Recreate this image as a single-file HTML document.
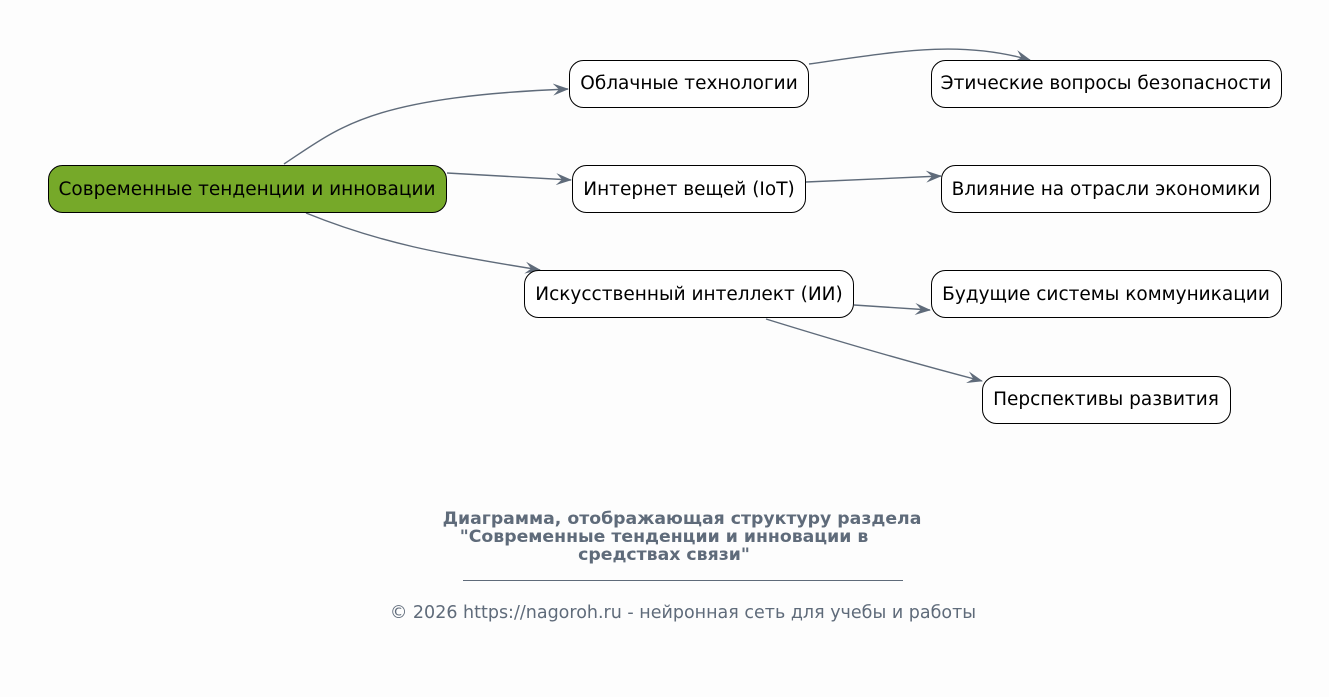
<!DOCTYPE html>
<html><head><meta charset="utf-8"><style>
html,body{margin:0;padding:0;background:#fdfdfd;}
svg{display:block;}
text{font-family:"DejaVu Sans","Liberation Sans","Noto Sans CJK SC",sans-serif;}
</style></head><body>
<svg width="1329" height="697" viewBox="0 0 1329 697" xmlns="http://www.w3.org/2000/svg">
<defs>
<marker id="a" viewBox="0 0 16 12" refX="15" refY="6" markerWidth="16" markerHeight="12" markerUnits="userSpaceOnUse" orient="auto">
<path d="M0,0 L16,6 L0,12 L6,6 z" fill="#5f6b7a"/>
</marker>
</defs>
<rect width="1329" height="697" fill="#fdfdfd"/>
<g fill="none" stroke="#5f6b7a" stroke-width="1.4" marker-end="url(#a)">
<path d="M284,164 C340,127 370,97 568,89"/>
<path d="M447,173 L571,180"/>
<path d="M306,213 C380,243 440,254 540,270"/>
<path d="M809,64 C900,51 960,40 1030,60"/>
<path d="M806,182 L941,176"/>
<path d="M854,305 L930,310"/>
<path d="M766,319 C850,345 920,365 982,381"/>
</g>
<g stroke="#000" stroke-width="1">
<rect x="48.5" y="165.5" width="398" height="47" rx="14" fill="#76a929"/>
<rect x="569.5" y="60.5" width="239" height="47" rx="14" fill="#fff"/>
<rect x="572.5" y="165.5" width="233" height="47" rx="14" fill="#fff"/>
<rect x="524.5" y="270.5" width="329" height="47" rx="14" fill="#fff"/>
<rect x="931.5" y="60.5" width="350" height="47" rx="14" fill="#fff"/>
<rect x="941.5" y="165.5" width="329" height="47" rx="14" fill="#fff"/>
<rect x="931.5" y="270.5" width="350" height="47" rx="14" fill="#fff"/>
<rect x="982.5" y="376.5" width="248" height="47" rx="14" fill="#fff"/>
</g>
<g font-size="18.5" fill="#000" text-anchor="middle">
<text x="247" y="195">Современные тенденции и инновации</text>
<text x="689" y="89">Облачные технологии</text>
<text x="689" y="195">Интернет вещей (IoT)</text>
<text x="689" y="300">Искусственный интеллект (ИИ)</text>
<text x="1106" y="89">Этические вопросы безопасности</text>
<text x="1106" y="195">Влияние на отрасли экономики</text>
<text x="1106" y="300">Будущие системы коммуникации</text>
<text x="1106" y="405">Перспективы развития</text>
</g>
<g font-size="17.3" font-weight="bold" fill="#5f6b7a" text-anchor="middle">
<text x="682" y="524">Диаграмма, отображающая структуру раздела</text>
<text x="664" y="542">"Современные тенденции и инновации в</text>
<text x="664" y="560">средствах связи"</text>
</g>
<line x1="463" y1="580.5" x2="903" y2="580.5" stroke="#5f6b7a" stroke-width="1"/>
<text x="683" y="618" font-size="17.5" fill="#5f6b7a" text-anchor="middle">© 2026 https://nagoroh.ru - нейронная сеть для учебы и работы</text>
</svg>
</body></html>
